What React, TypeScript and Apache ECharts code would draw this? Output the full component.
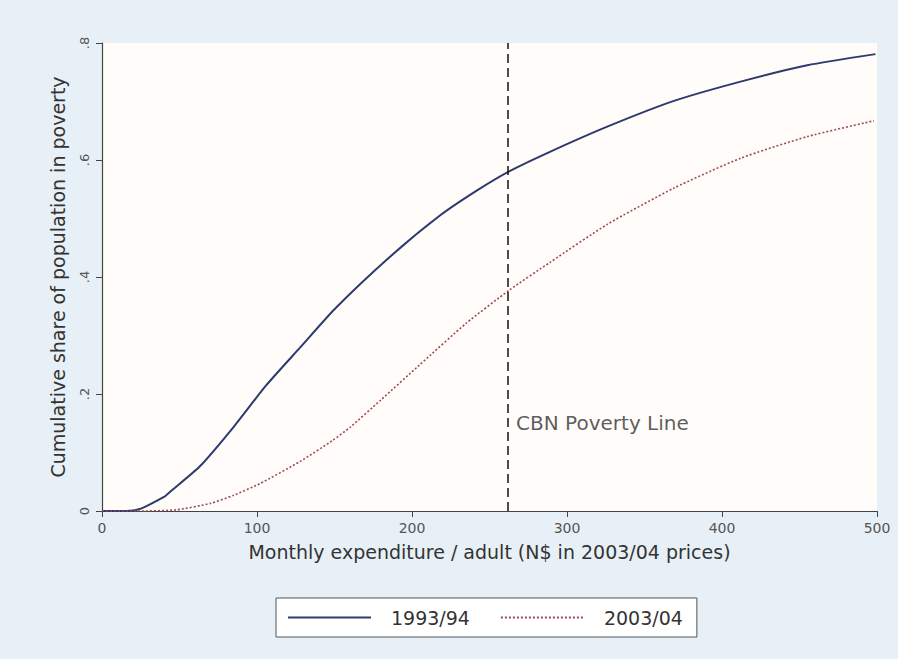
import React, { useEffect, useRef } from "react";
import * as echarts from "echarts";

const xs1993 = [0, 10, 20, 25, 30, 40, 44, 63, 85, 106, 128, 150, 186, 218, 242, 263, 289, 326, 369, 412, 455, 499];
const ys1993 = [0, 0, 0.001, 0.004, 0.01, 0.024, 0.033, 0.076, 0.144, 0.215, 0.28, 0.345, 0.435, 0.505, 0.548, 0.581, 0.614, 0.657, 0.701, 0.734, 0.762, 0.781];

const xs2003 = [0, 25, 48, 70, 85, 102, 128, 149, 160, 180, 205, 235, 263, 289, 326, 369, 412, 455, 498];
const ys2003 = [0, 0, 0.002, 0.013, 0.027, 0.047, 0.085, 0.121, 0.143, 0.19, 0.25, 0.321, 0.378, 0.425, 0.49, 0.552, 0.603, 0.64, 0.667];

const seriesNames = ["1993/94", "2003/04"];
const povertyLineX = 262;
const povertyLabelY = 0.15;
const povertyLabel = "CBN Poverty Line";
const xTicks = [0, 100, 200, 300, 400, 500];
const yTickLabels = ["0", ".2", ".4", ".6", ".8"];

const FONT = "DejaVu Sans, Verdana, sans-serif";

export default function App() {
  const ref = useRef<HTMLDivElement>(null);
  useEffect(() => {
    if (!ref.current) return;
    const chart = echarts.init(ref.current, undefined, { renderer: "svg" });
    const pair = (xs: number[], ys: number[]) => xs.map((x, i) => [x, ys[i]]);
    chart.setOption({
      animation: false,
      backgroundColor: "#e8f0f7",
      textStyle: { fontFamily: FONT },
      grid: {
        left: 102,
        top: 43,
        width: 775,
        height: 468,
        show: true,
        backgroundColor: "#fffcf9",
        borderWidth: 0,
      },
      xAxis: {
        type: "value",
        min: xTicks[0],
        max: xTicks[xTicks.length - 1],
        interval: 100,
        name: "Monthly expenditure / adult (N$ in 2003/04 prices)",
        nameLocation: "middle",
        nameGap: 31,
        nameTextStyle: { fontSize: 19, color: "#333", fontFamily: FONT },
        axisLine: { show: true, onZero: false, lineStyle: { color: "#444", width: 1.2 } },
        axisTick: { show: true, inside: false, length: 6, lineStyle: { color: "#444" } },
        axisLabel: { fontSize: 14, color: "#555", margin: 10, fontFamily: FONT },
        splitLine: { show: false },
      },
      yAxis: {
        type: "value",
        min: 0,
        max: 0.8,
        interval: 0.2,
        name: "Cumulative share of population in poverty",
        nameLocation: "middle",
        nameGap: 35,
        nameTextStyle: { fontSize: 19, color: "#333", fontFamily: FONT },
        axisLine: { show: true, lineStyle: { color: "#444", width: 1.2 } },
        axisTick: { show: true, inside: false, length: 6, lineStyle: { color: "#444" } },
        axisLabel: {
          fontSize: 13,
          color: "#555",
          rotate: 90,
          margin: 11,
          fontFamily: FONT,
          formatter: (v: number) => yTickLabels[Math.round(v / 0.2)] ?? "",
        },
        splitLine: { show: false },
      },
      legend: {
        data: seriesNames,
        left: 276,
        top: 598,
        orient: "horizontal",
        padding: [10, 14, 10, 11],
        itemGap: 30,
        itemWidth: 83,
        itemHeight: 14,
        backgroundColor: "#ffffff",
        borderColor: "#555",
        borderWidth: 1,
        borderRadius: 0,
        selectedMode: false,
        itemStyle: { opacity: 0, borderWidth: 0 },
        textStyle: { fontSize: 19, color: "#333", fontFamily: FONT, padding: [0, 0, 0, 15] },
      },
      series: [
        {
          name: seriesNames[0],
          type: "line",
          data: pair(xs1993, ys1993),
          showSymbol: false,
          symbol: "none",
          smooth: 0.2,
          lineStyle: { color: "#2e3a6e", width: 2 },
          itemStyle: { color: "#2e3a6e" },
          z: 3,
        },
        {
          name: seriesNames[1],
          type: "line",
          data: pair(xs2003, ys2003),
          showSymbol: false,
          symbol: "none",
          smooth: 0.2,
          lineStyle: { color: "#9a4b55", width: 1.6, type: [2, 2] },
          itemStyle: { color: "#9a4b55" },
          z: 3,
        },
        {
          name: "poverty",
          type: "scatter",
          data: [[povertyLineX, povertyLabelY]],
          symbolSize: 0,
          silent: true,
          label: {
            show: true,
            position: "right",
            distance: 8,
            formatter: povertyLabel,
            fontSize: 20,
            color: "#333",
            fontFamily: FONT,
          },
          markLine: {
            silent: true,
            symbol: "none",
            label: { show: false },
            lineStyle: { color: "#111", width: 1.5, type: [9, 5] },
            data: [{ xAxis: povertyLineX }],
          },
          z: 2,
        },
      ],
    });
    return () => chart.dispose();
  }, []);
  return (
    <div
      ref={ref}
      style={{ position: "fixed", left: 0, top: 0, width: 898, height: 659 }}
    />
  );
}
